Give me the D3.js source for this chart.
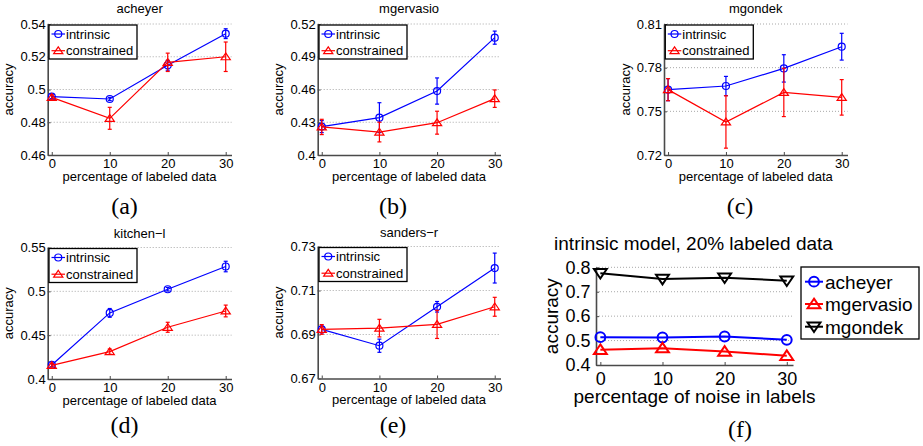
<!DOCTYPE html>
<html lang="en">
<head>
<meta charset="UTF-8">
<title>accuracy vs labeled data</title>
<style>
  body { margin: 0; background: #fff; }
  svg text { font-family: "Liberation Sans", Arial, Helvetica, sans-serif; fill: #000; }
</style>
</head>
<body>
<svg id="fig" width="923" height="446"></svg>
<script src="https://d3js.org/d3.v7.min.js"></script>
<script>

// x positions shared by every panel (percentage of labeled data / noise)
var xValues = [0, 10, 20, 30];
var xTickLabels = ["0", "10", "20", "30"];

// (a) acheyer
var acheyerIntrinsic     = [0.4956, 0.4942, 0.5148, 0.5341];
var acheyerIntrinsicErr  = [0.0012, 0.0010, 0.0030, 0.0030];
var acheyerConstrained   = [0.4952, 0.4824, 0.5166, 0.5200];
var acheyerConstrainedErr = [0.0015, 0.0067, 0.0056, 0.0090];
var acheyerTicks = [0.46, 0.48, 0.5, 0.52, 0.54];
var acheyerTickLabels = ["0.46", "0.48", "0.5", "0.52", "0.54"];

// (b) mgervasio
var mgervasioIntrinsic     = [0.4260, 0.4342, 0.4586, 0.5075];
var mgervasioIntrinsicErr  = [0.0055, 0.0137, 0.0120, 0.0060];
var mgervasioConstrained   = [0.4257, 0.4210, 0.4296, 0.4516];
var mgervasioConstrainedErr = [0.0070, 0.0090, 0.0105, 0.0080];
var mgervasioTicks = [0.4, 0.43, 0.46, 0.49, 0.52];
var mgervasioTickLabels = ["0.4", "0.43", "0.46", "0.49", "0.52"];

// (c) mgondek
var mgondekIntrinsic     = [0.7649, 0.7674, 0.7795, 0.7944];
var mgondekIntrinsicErr  = [0.0076, 0.0066, 0.0094, 0.0092];
var mgondekConstrained   = [0.7649, 0.7427, 0.7630, 0.7596];
var mgondekConstrainedErr = [0.0076, 0.0180, 0.0166, 0.0122];
var mgondekTicks = [0.72, 0.75, 0.78, 0.81];
var mgondekTickLabels = ["0.72", "0.75", "0.78", "0.81"];

// (d) kitchen-l
var kitchenIntrinsic     = [0.4160, 0.4754, 0.5024, 0.5283];
var kitchenIntrinsicErr  = [0.0020, 0.0050, 0.0020, 0.0060];
var kitchenConstrained   = [0.4155, 0.4312, 0.4590, 0.4776];
var kitchenConstrainedErr = [0.0020, 0.0030, 0.0057, 0.0067];
var kitchenTicks = [0.4, 0.45, 0.5, 0.55];
var kitchenTickLabels = ["0.4", "0.45", "0.5", "0.55"];

// (e) sanders-r
var sandersIntrinsic     = [0.6923, 0.6849, 0.7026, 0.7202];
var sandersIntrinsicErr  = [0.0015, 0.0030, 0.0024, 0.0068];
var sandersConstrained   = [0.6923, 0.6929, 0.6946, 0.7026];
var sandersConstrainedErr = [0.0022, 0.0040, 0.0064, 0.0043];
var sandersTicks = [0.67, 0.69, 0.71, 0.73];
var sandersTickLabels = ["0.67", "0.69", "0.71", "0.73"];

// (f) intrinsic model, 20% labeled data, vs label noise
var noiseAcheyer   = [0.514, 0.5127, 0.5167, 0.503];
var noiseMgervasio = [0.4625, 0.469, 0.4555, 0.438];
var noiseMgondek   = [0.776, 0.752, 0.7576, 0.745];
var noiseTicks = [0.4, 0.5, 0.6, 0.7, 0.8];
var noiseTickLabels = ["0.4", "0.5", "0.6", "0.7", "0.8"];

var BLUE = "#0000ff", RED = "#ff0000", BLACK = "#000";

var svg = d3.select("#fig");
svg.append("rect").attr("width", 923).attr("height", 446).attr("fill", "#fff");

function twoSeries(a, aErr, b, bErr) {
  return [
    {name: "intrinsic", values: a, err: aErr, color: BLUE, marker: "circle"},
    {name: "constrained", values: b, err: bErr, color: RED, marker: "up"}
  ];
}

var small = {tick: 13, label: 13, lw: 1.2, ms: 1, tickPad: 2, xPad: 4, xLabelDy: 25.5,
             legend: {w: 88, h: 34, rows: [9, 25.7], x0: 2.5, x1: 16, tx: 17, font: 13}};

var panels = [
  {title: "acheyer", tag: "(a)", left: 47.7, right: 231.5, top: 24, bottom: 155,
   yDomain: [0.46, 0.54], yTicks: acheyerTicks, yLabels: acheyerTickLabels,
   series: twoSeries(acheyerIntrinsic, acheyerIntrinsicErr, acheyerConstrained, acheyerConstrainedErr),
   titleY: 12.8, yLabelX: 13, tagX: 124.5, tagY: 214},
  {title: "mgervasio", tag: "(b)", left: 317.7, right: 500.5, top: 24, bottom: 155,
   yDomain: [0.4, 0.52], yTicks: mgervasioTicks, yLabels: mgervasioTickLabels,
   series: twoSeries(mgervasioIntrinsic, mgervasioIntrinsicErr, mgervasioConstrained, mgervasioConstrainedErr),
   titleY: 12.8, yLabelX: 283, tagX: 393, tagY: 214},
  {title: "mgondek", tag: "(c)", left: 664, right: 847.5, top: 24, bottom: 155,
   yDomain: [0.72, 0.81], yTicks: mgondekTicks, yLabels: mgondekTickLabels,
   series: twoSeries(mgondekIntrinsic, mgondekIntrinsicErr, mgondekConstrained, mgondekConstrainedErr),
   titleY: 12.8, yLabelX: 630, tagX: 740, tagY: 214},
  {title: "kitchen\u2212l", tag: "(d)", left: 47.7, right: 231.5, top: 247.5, bottom: 379,
   yDomain: [0.4, 0.55], yTicks: kitchenTicks, yLabels: kitchenTickLabels,
   series: twoSeries(kitchenIntrinsic, kitchenIntrinsicErr, kitchenConstrained, kitchenConstrainedErr),
   titleY: 237.5, yLabelX: 13, tagX: 124.5, tagY: 433},
  {title: "sanders\u2212r", tag: "(e)", left: 317.7, right: 500.5, top: 246.5, bottom: 378.5,
   yDomain: [0.67, 0.73], yTicks: sandersTicks, yLabels: sandersTickLabels,
   series: twoSeries(sandersIntrinsic, sandersIntrinsicErr, sandersConstrained, sandersConstrainedErr),
   titleY: 237, yLabelX: 283, tagX: 393, tagY: 433}
];
panels.forEach(function (p) {
  p.style = small;
  p.xLabel = "percentage of labeled data";
  p.legendBox = [p.left + 1.3, p.top + 1];
  p.titleX = (p.left + p.right) / 2;
});

panels.push({
  title: "intrinsic model, 20% labeled data", tag: "(f)",
  left: 596, right: 793, top: 267.3, bottom: 365,
  yDomain: [0.4, 0.8], yTicks: noiseTicks, yLabels: noiseTickLabels,
  series: [
    {name: "acheyer", values: noiseAcheyer, color: BLUE, marker: "circle"},
    {name: "mgervasio", values: noiseMgervasio, color: RED, marker: "up"},
    {name: "mgondek", values: noiseMgondek, color: BLACK, marker: "down"}
  ],
  xLabel: "percentage of noise in labels",
  titleX: 693.5, titleY: 250, yLabelX: 558, tagX: 740, tagY: 437,
  legendBox: [801, 267],
  style: {tick: 18, label: 19, lw: 2, ms: 1.4, tickPad: 5.5, xPad: 7.5, xLabelDy: 37.5,
          legend: {w: 118, h: 72, rows: [14.7, 37, 59.7], x0: 4, x1: 22, tx: 24, font: 19}}
});

function markerPath(type, s) {
  if (type === "up") return "M0," + (-3.8 * s) + "L" + (4.6 * s) + "," + (3 * s) + "L" + (-4.6 * s) + "," + (3 * s) + "Z";
  if (type === "down") return "M0," + (3.8 * s) + "L" + (4.6 * s) + "," + (-3 * s) + "L" + (-4.6 * s) + "," + (-3 * s) + "Z";
  var r = 3.5 * s;
  return "M" + r + ",0A" + r + "," + r + " 0 1,1 " + (-r) + ",0A" + r + "," + r + " 0 1,1 " + r + ",0Z";
}

function drawPanel(p) {
  var st = p.style;
  var g = svg.append("g");
  var x = d3.scaleLinear().domain([-0.7, 31]).range([p.left, p.right]);
  var y = d3.scaleLinear().domain(p.yDomain).range([p.bottom, p.top]);

  // dotted grid
  g.selectAll("line.grid")
    .data(p.yTicks.filter(function (t) { return t > p.yDomain[0]; }))
    .join("line")
    .attr("x1", p.left).attr("x2", p.right)
    .attr("y1", function (d) { return y(d); }).attr("y2", function (d) { return y(d); })
    .attr("stroke", "#a8a8a8").attr("stroke-width", 1).attr("stroke-dasharray", "1,2");

  // axes
  var yAxis = d3.axisLeft(y).tickValues(p.yTicks)
    .tickFormat(function (d, i) { return p.yLabels[i]; })
    .tickSizeInner(-3).tickSizeOuter(0).tickPadding(st.tickPad);
  var xAxis = d3.axisBottom(x).tickValues(xValues)
    .tickFormat(function (d, i) { return xTickLabels[i]; })
    .tickSizeInner(-3).tickSizeOuter(0).tickPadding(st.xPad);

  [[yAxis, "translate(" + p.left + ",0)"], [xAxis, "translate(0," + p.bottom + ")"]].forEach(function (a) {
    var ag = g.append("g").attr("transform", a[1]).call(a[0]);
    ag.attr("font-family", null).attr("font-size", st.tick).attr("color", "#4a4a4a");
    ag.select(".domain").attr("stroke-width", 1.6);
    ag.selectAll(".tick line").attr("stroke-width", 1);
    ag.selectAll(".tick text").style("fill", "#000");
  });

  // series
  var line = d3.line()
    .x(function (d, i) { return x(xValues[i]); })
    .y(function (d) { return y(d); });

  p.series.forEach(function (s) {
    var sg = g.append("g").attr("stroke", s.color).attr("fill", "none").attr("stroke-width", st.lw);
    sg.append("path").attr("d", line(s.values));
    if (s.err) {
      var eb = sg.selectAll("g.err").data(s.values).join("g");
      eb.append("line")
        .attr("x1", function (d, i) { return x(xValues[i]); })
        .attr("x2", function (d, i) { return x(xValues[i]); })
        .attr("y1", function (d, i) { return y(d - s.err[i]); })
        .attr("y2", function (d, i) { return y(d + s.err[i]); });
      [-1, 1].forEach(function (sgn) {
        eb.append("line")
          .attr("x1", function (d, i) { return x(xValues[i]) - 2; })
          .attr("x2", function (d, i) { return x(xValues[i]) + 2; })
          .attr("y1", function (d, i) { return y(d + sgn * s.err[i]); })
          .attr("y2", function (d, i) { return y(d + sgn * s.err[i]); });
      });
    }
    sg.selectAll("path.mk").data(s.values).join("path").attr("class", "mk")
      .attr("transform", function (d, i) { return "translate(" + x(xValues[i]) + "," + y(d) + ")"; })
      .attr("d", markerPath(s.marker, st.ms));
  });

  // legend
  var L = st.legend;
  var lg = g.append("g").attr("transform", "translate(" + p.legendBox[0] + "," + p.legendBox[1] + ")");
  lg.append("rect").attr("width", L.w).attr("height", L.h)
    .attr("fill", "#fff").attr("stroke", "#000").attr("stroke-width", 1.3);
  p.series.forEach(function (s, i) {
    var cy = L.rows[i];
    var eg = lg.append("g").attr("stroke", s.color).attr("fill", "none").attr("stroke-width", st.lw);
    eg.append("line").attr("x1", L.x0).attr("x2", L.x1).attr("y1", cy).attr("y2", cy);
    eg.append("path").attr("transform", "translate(" + (L.x0 + L.x1) / 2 + "," + cy + ")")
      .attr("d", markerPath(s.marker, st.ms));
    lg.append("text").attr("x", L.tx).attr("y", cy + L.font * 0.36)
      .attr("font-size", L.font).text(s.name);
  });

  // titles and labels
  g.append("text").attr("x", p.titleX).attr("y", p.titleY)
    .attr("text-anchor", "middle").attr("font-size", st.label).text(p.title);
  g.append("text").attr("x", (p.left + p.right) / 2).attr("y", p.bottom + st.xLabelDy)
    .attr("text-anchor", "middle").attr("font-size", st.label).text(p.xLabel);
  g.append("text")
    .attr("transform", "translate(" + p.yLabelX + "," + (p.top + p.bottom) / 2 + ") rotate(-90)")
    .attr("text-anchor", "middle").attr("font-size", st.label).text("accuracy");
  g.append("text").attr("x", p.tagX).attr("y", p.tagY)
    .attr("text-anchor", "middle").attr("font-size", 24)
    .style("font-family", "'Liberation Serif', 'Times New Roman', serif")
    .text(p.tag);
}

panels.forEach(drawPanel);

</script>
</body>
</html>
